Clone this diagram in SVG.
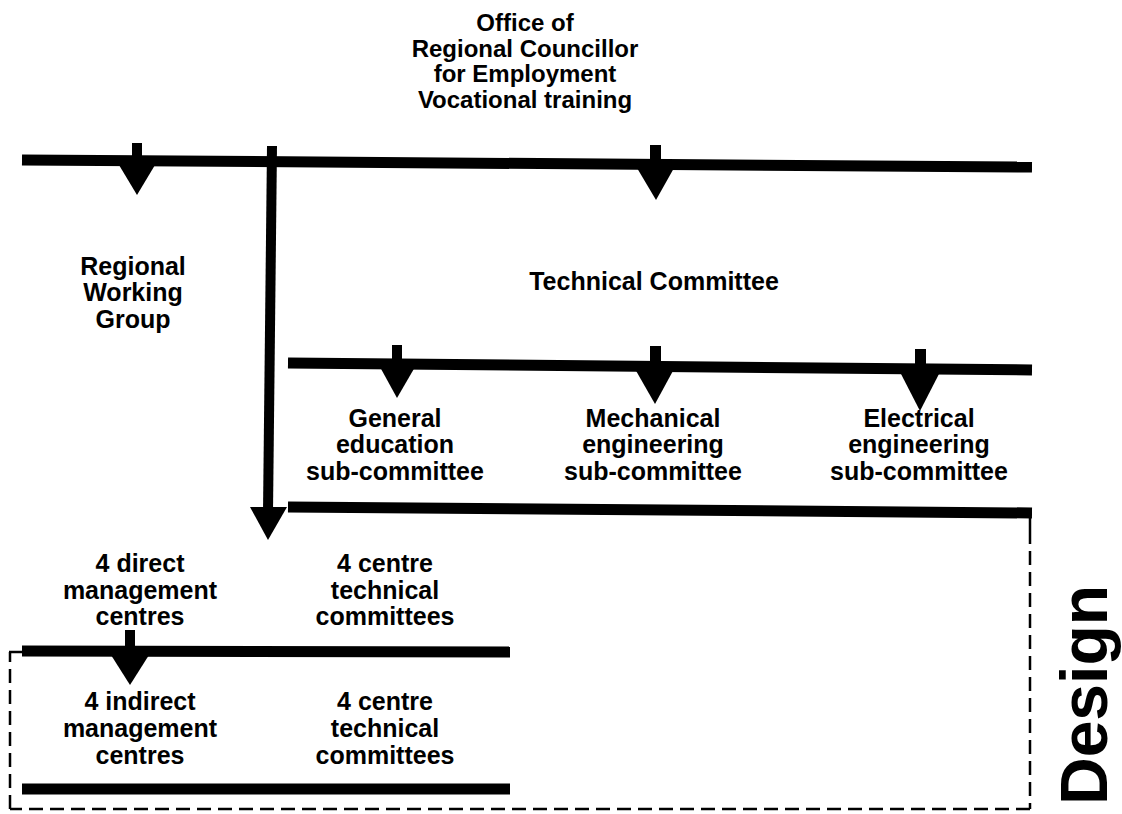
<svg xmlns="http://www.w3.org/2000/svg" width="1122" height="814" viewBox="0 0 1122 814">
<style>
.t{font-family:"Liberation Sans",Arial,sans-serif;font-weight:bold;font-size:25px;fill:#000;text-anchor:middle}
.top{font-size:24px}
.bar{stroke:#000;stroke-width:11;fill:none;stroke-linecap:butt}
.dash{stroke:#000;stroke-width:2.5;fill:none;stroke-dasharray:14 7}
.head{fill:#000}
</style>
<rect width="1122" height="814" fill="#fff"/>
<g id="connectors">
  <line class="bar" x1="22" y1="160" x2="1032" y2="167"/>
  <line class="bar" x1="288" y1="363" x2="1032" y2="370"/>
  <line class="bar" x1="288" y1="507" x2="1032" y2="513"/>
  <line class="bar" x1="22" y1="651" x2="510" y2="652"/>
  <line class="bar" x1="22" y1="789" x2="510" y2="789"/>
  <rect x="132" y="143" width="10" height="18"/>
  <polygon class="head" points="119,165 155,165 137,195"/>
  <line stroke="#000" stroke-width="10" x1="272" y1="146" x2="268" y2="512"/>
  <polygon class="head" points="250,507 287,507 268,540"/>
  <rect x="650" y="145" width="11" height="20"/>
  <polygon class="head" points="637,168 674,168 656,200"/>
  <rect x="392" y="345" width="10" height="20"/>
  <polygon class="head" points="380,367 415,367 397,398"/>
  <rect x="650" y="346" width="11" height="20"/>
  <polygon class="head" points="635,369 674,369 655,404"/>
  <rect x="915" y="349" width="11" height="20"/>
  <polygon class="head" points="900,372 940,372 920,411"/>
  <rect x="125" y="630" width="10" height="20"/>
  <polygon class="head" points="111,655 149,655 130,685"/>
  <line stroke="#000" stroke-width="2.5" x1="1030" y1="508" x2="1030" y2="530"/>
  <line class="dash" x1="1030" y1="530" x2="1030" y2="809"/>
  <line class="dash" x1="1030" y1="809" x2="10" y2="809"/>
  <line class="dash" x1="10" y1="809" x2="10" y2="652"/>
  <line stroke="#000" stroke-width="2.5" x1="9" y1="652" x2="24" y2="652"/>
</g>
<g id="office">
  <text class="t top" x="525" y="31">Office of</text>
  <text class="t top" x="525" y="57">Regional Councillor</text>
  <text class="t top" x="525" y="82">for Employment</text>
  <text class="t top" x="525" y="108">Vocational training</text>
</g>
<g id="regional-working-group">
  <text class="t" x="133" y="275">Regional</text>
  <text class="t" x="133" y="301">Working</text>
  <text class="t" x="133" y="328">Group</text>
</g>
<g id="technical-committee">
  <text class="t" x="654" y="290">Technical Committee</text>
</g>
<g id="general-education">
  <text class="t" x="395" y="427">General</text>
  <text class="t" x="395" y="453">education</text>
  <text class="t" x="395" y="480">sub-committee</text>
</g>
<g id="mechanical-engineering">
  <text class="t" x="653" y="427">Mechanical</text>
  <text class="t" x="653" y="453">engineering</text>
  <text class="t" x="653" y="480">sub-committee</text>
</g>
<g id="electrical-engineering">
  <text class="t" x="919" y="427">Electrical</text>
  <text class="t" x="919" y="453">engineering</text>
  <text class="t" x="919" y="480">sub-committee</text>
</g>
<g id="direct-centres">
  <text class="t" x="140" y="572">4 direct</text>
  <text class="t" x="140" y="599">management</text>
  <text class="t" x="140" y="625">centres</text>
</g>
<g id="direct-technical">
  <text class="t" x="385" y="572">4 centre</text>
  <text class="t" x="385" y="599">technical</text>
  <text class="t" x="385" y="625">committees</text>
</g>
<g id="indirect-centres">
  <text class="t" x="140" y="710">4 indirect</text>
  <text class="t" x="140" y="737">management</text>
  <text class="t" x="140" y="764">centres</text>
</g>
<g id="indirect-technical">
  <text class="t" x="385" y="710">4 centre</text>
  <text class="t" x="385" y="737">technical</text>
  <text class="t" x="385" y="764">committees</text>
</g>
<g id="design-label">
  <text class="t" style="font-size:66px" transform="translate(1107,695) rotate(-90)">Design</text>
</g>
</svg>
